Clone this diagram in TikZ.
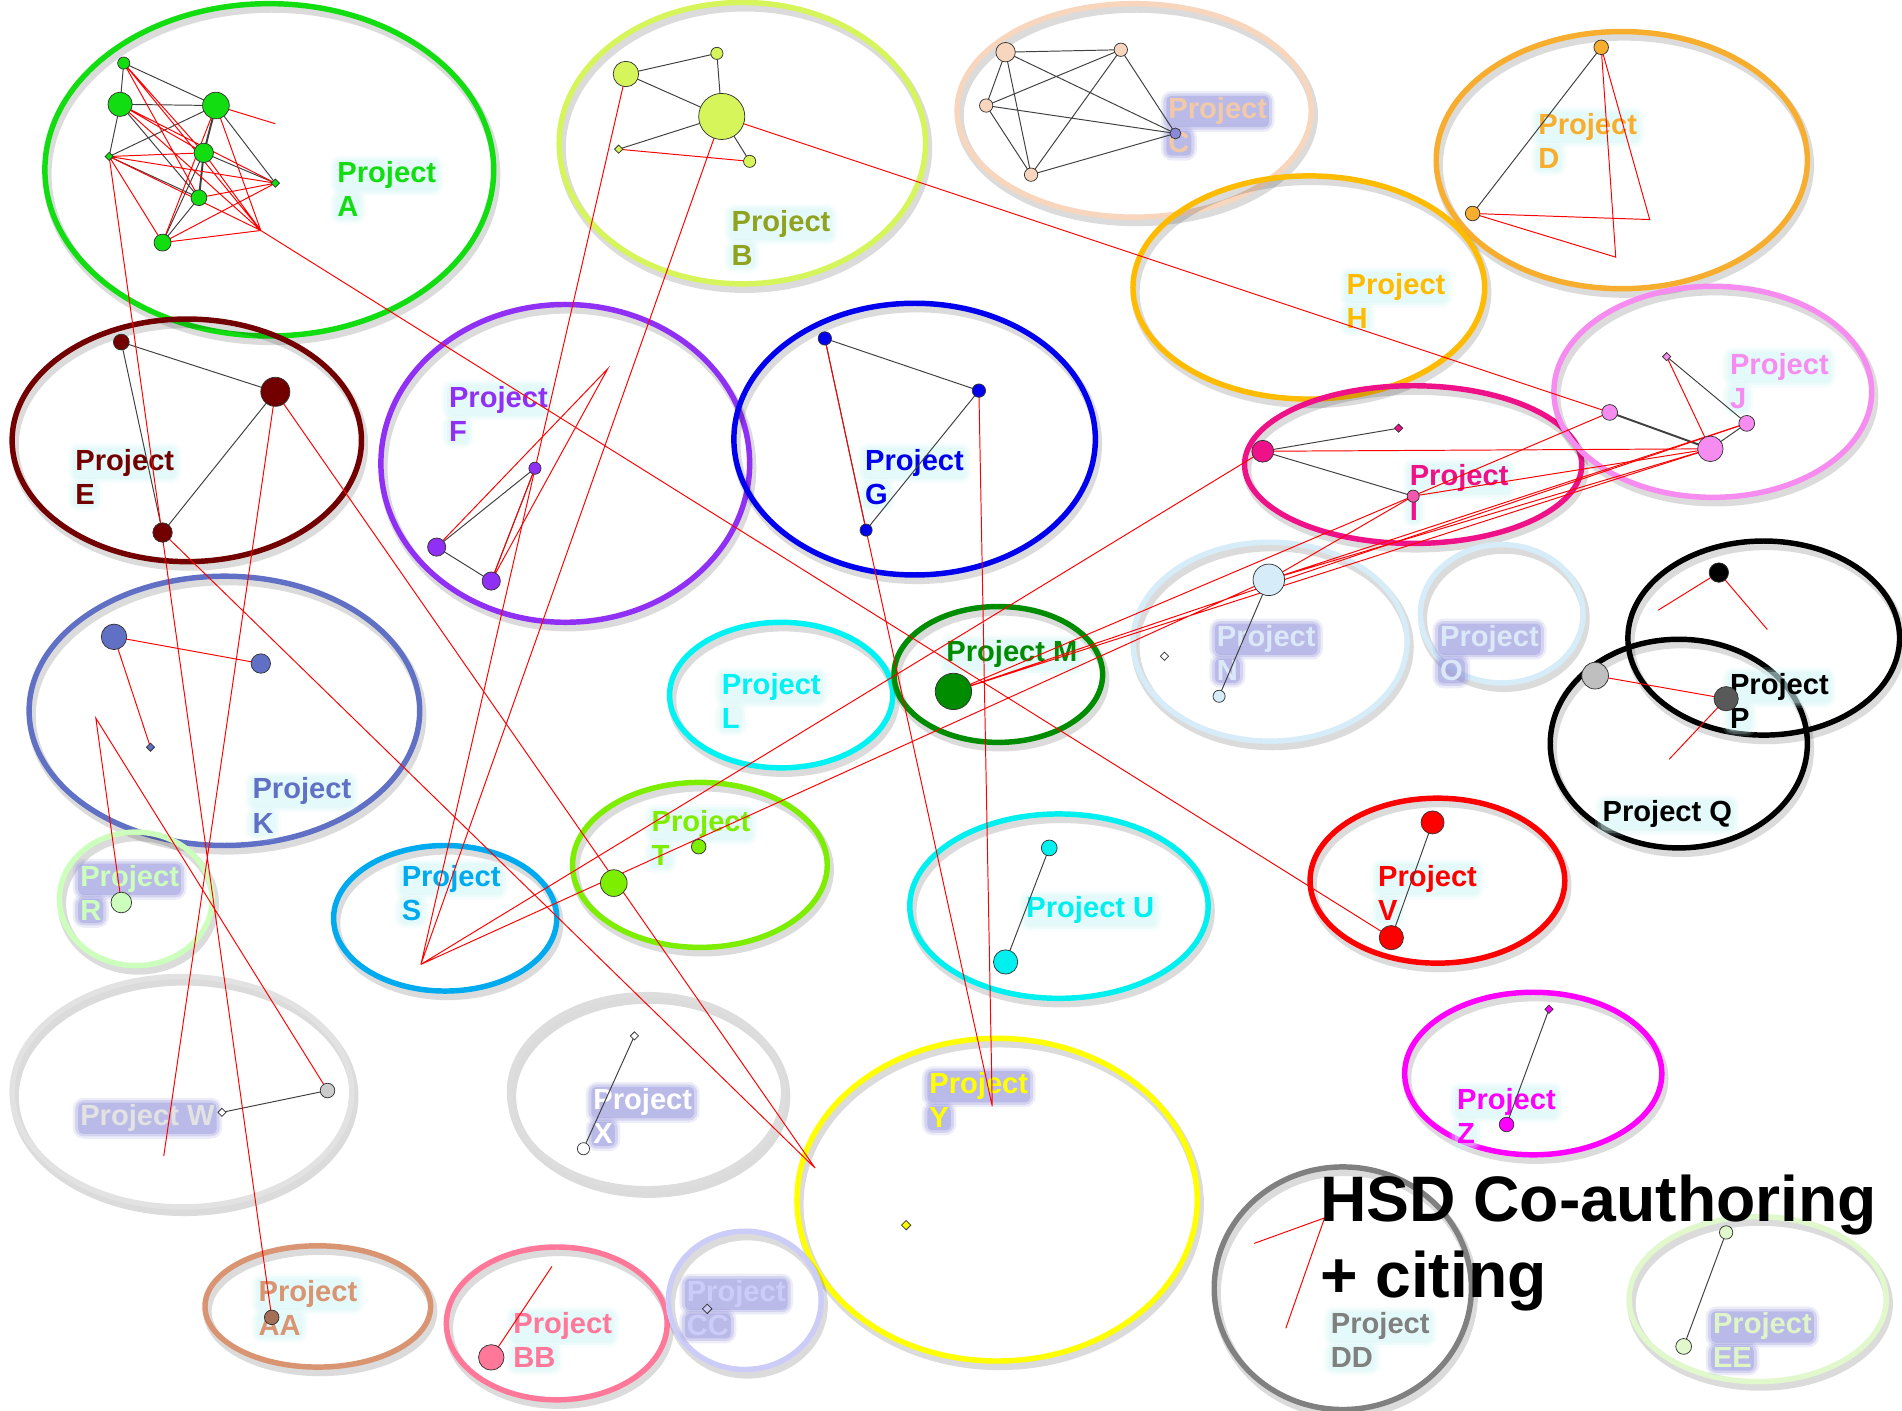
\documentclass[tikz,border=0pt]{standalone}
\usepackage{fontspec}
\setmainfont{Liberation Sans}
\usetikzlibrary{shapes.geometric}
\pgfdeclarelayer{bg}
\pgfdeclarelayer{halo}
\pgfdeclarelayer{lbl}
\pgfdeclarelayer{mid}
\pgfsetlayers{bg,halo,lbl,mid,main}
\newcommand\lblf{\fontsize{24}{29}\selectfont\bfseries}
\newcommand\ttlf{\fontsize{53}{63}\selectfont\bfseries}
\definecolor{cA}{HTML}{11DD11}
\definecolor{cB}{HTML}{D6F55A}
\definecolor{tB}{HTML}{8FA321}
\definecolor{cC}{HTML}{F8D6BD}
\definecolor{tC}{HTML}{F2C9A8}
\definecolor{cD}{HTML}{F7AE2E}
\definecolor{cE}{HTML}{720000}
\definecolor{cF}{HTML}{9130F5}
\definecolor{cG}{HTML}{0000EE}
\definecolor{cH}{HTML}{FFBB00}
\definecolor{cI}{HTML}{EE1188}
\definecolor{cJ}{HTML}{F78CF0}
\definecolor{cK}{HTML}{6070C4}
\definecolor{cL}{HTML}{00F2F2}
\definecolor{cM}{HTML}{008C00}
\definecolor{cN}{HTML}{D6ECF8}
\definecolor{tN}{HTML}{DAE8F8}
\definecolor{cR}{HTML}{CCFFBB}
\definecolor{cS}{HTML}{00AAEE}
\definecolor{cT}{HTML}{7DEE00}
\definecolor{cU}{HTML}{00F0F0}
\definecolor{cV}{HTML}{FF0000}
\definecolor{cW}{HTML}{E2E2E2}
\definecolor{cX}{HTML}{DDDDDD}
\definecolor{cY}{HTML}{FFFF00}
\definecolor{cZ}{HTML}{FF00FF}
\definecolor{cAA}{HTML}{D99472}
\definecolor{cBB}{HTML}{FF7799}
\definecolor{cCC}{HTML}{CCCCF8}
\definecolor{cDD}{HTML}{808080}
\definecolor{cEE}{HTML}{E0F8CC}
\definecolor{tEE}{HTML}{DFF5C8}
\definecolor{hl}{HTML}{8A8ADA}
\definecolor{hc}{HTML}{D2F6F6}
\newcommand\ring[6]{%
  \node[rshadow, minimum width={2*#4}, minimum height={2*#5}] at (#2+2,#3+4) {};
  \node[rline, draw=#6, minimum width={2*#4}, minimum height={2*#5}] (#1) at (#2,#3) {};
}
% soft halo behind one text node
\newcommand\halo[2]{%
  \begin{pgfonlayer}{halo}
  \fill[#2, opacity=0.15, rounded corners=9pt] ([shift={(-6,-5)}]#1.north west) rectangle ([shift={(6,6)}]#1.south east);
  \fill[#2, opacity=0.25, rounded corners=7pt] ([shift={(-4,-3)}]#1.north west) rectangle ([shift={(4,4)}]#1.south east);
  \fill[#2, opacity=0.35, rounded corners=4pt] ([shift={(-1.5,-1)}]#1.north west) rectangle ([shift={(1.5,2)}]#1.south east);
  \end{pgfonlayer}
}
% two-line label: position, text colour, halo colour, line 1, line 2, name
\newcommand\plab[6]{%
  \begin{pgfonlayer}{lbl}
  \node[lbl,text=#2] (#6) at (#1) {#4};
  \node[lbl,text=#2] (#6b) at ([yshift=-29pt]#6.north west) {#5};
  \end{pgfonlayer}
  \halo{#6}{#3}\halo{#6b}{#3}
}
% one-line label: position, text colour, halo colour, text, name
\newcommand\plabo[5]{%
  \begin{pgfonlayer}{lbl}
  \node[lbl,text=#2] (#5) at (#1) {#4};
  \end{pgfonlayer}
  \halo{#5}{#3}
}
\begin{document}
\begin{tikzpicture}[x=1pt,y=-1pt,
  lbl/.style={font=\lblf, anchor=north west, inner sep=0pt},
  ttl/.style={font=\ttlf, align=left, anchor=north west, inner sep=0pt},
  rline/.style={ellipse, line width=4.5pt, inner sep=0pt, outer sep=0pt},
  rshadow/.style={ellipse, draw=black, opacity=0.14, line width=7pt, inner sep=0pt},
  gdot/.style={circle, fill=#1, draw=black!80, line width=0.6pt, inner sep=0pt},
  gdia/.style={diamond, fill=#1, draw=black!80, line width=0.6pt, inner sep=0pt, minimum size=7pt},
  redl/.style={draw=red, line width=0.8pt},
  blkl/.style={draw=black!75, line width=0.8pt},
  thk/.style={line width=1.6pt}]
\begin{pgfonlayer}{bg}
\fill[white] (0,0) rectangle (1568,1163);
\end{pgfonlayer}
\useasboundingbox (0,0) rectangle (1568,1163);

\begin{pgfonlayer}{bg}
\ring{eA}{222}{140}{185}{137}{cA}
\ring{eB}{612}{118}{151}{116}{cB}
\ring{eC}{935}{91}{146}{88}{cC}
\ring{eD}{1337}{132}{153}{106}{cD}
\ring{eE}{154}{363}{144}{100}{cE}
\ring{eF}{466}{382}{152}{131}{cF}
\ring{eG}{754}{362}{149}{112}{cG}
\ring{eH}{1079}{237}{145}{92}{cH}
\ring{eI}{1165}{383}{139}{65}{cI}
\ring{eJ}{1412}{323}{131}{87}{cJ}
\ring{eK}{185}{586}{161}{111}{cK}
\ring{eL}{644}{573}{92}{60}{cL}
\ring{eM}{823}{556}{86}{56}{cM}
\ring{eN}{1047}{529}{113}{82}{cN}
\ring{eO}{1238}{506}{67}{57}{cN}
\ring{eP}{1454}{526}{112}{80}{black}
\ring{eQ}{1384}{613}{106}{86}{black}
\ring{eR}{112}{741}{63}{55}{cR}
\ring{eS}{367}{757}{92}{60}{cS}
\ring{eT}{577}{713}{105}{68}{cT}
\ring{eU}{873}{747}{123}{76}{cU}
\ring{eV}{1185}{726}{105}{68}{cV}
\ring{eW}{150}{900}{140}{95}{cW}
\ring{eX}{533}{900}{113}{80}{cX}
\ring{eY}{822}{989}{165}{133}{cY}
\ring{eZ}{1264}{885}{106}{67}{cZ}
\ring{eAA}{262}{1077}{93}{50}{cAA}
\ring{eBB}{459}{1091}{91}{63}{cBB}
\ring{eCC}{614}{1072}{63}{57}{cCC}
\ring{eDD}{1107}{1062}{106}{100}{cDD}
\ring{eEE}{1449}{1071}{106}{68}{cEE}
\end{pgfonlayer}

\plab{278,133}{cA}{hc}{Project}{A}{lA}
\plab{603,173}{tB}{hc}{Project}{B}{lB}
\plab{963,80}{tC}{hl}{Project}{C}{lC}
\plab{1268,93}{cD}{hc}{Project}{D}{lD}
\plab{62,370}{cE}{hc}{Project}{E}{lE}
\plab{370,318}{cF}{hc}{Project}{F}{lF}
\plab{713,370}{cG}{hc}{Project}{G}{lG}
\plab{1110,225}{cH}{hc}{Project}{H}{lH}
\plab{1162,383}{cI}{hc}{Project}{I}{lI}
\plab{1426,291}{cJ}{hc}{Project}{J}{lJ}
\plab{208,641}{cK}{hc}{Project}{K}{lK}
\plab{595,555}{cL}{hc}{Project}{L}{lL}
\plabo{780,528}{cM}{hc}{Project M}{lM}
\plab{1003,515}{tN}{hl}{Project}{N}{lN}
\plab{1187,515}{tN}{hl}{Project}{O}{lO}
\plab{1426,555}{black}{hc}{Project}{P}{lP}
\plabo{1321,660}{black}{hc}{Project Q}{lQ}
\plab{66,713}{cR}{hl}{Project}{R}{lR}
\plab{331,713}{cS}{hc}{Project}{S}{lS}
\plab{537,668}{cT}{hc}{Project}{T}{lT}
\plabo{846,739}{cU}{hc}{Project U}{lU}
\plab{1136,713}{cV}{hc}{Project}{V}{lV}
\plabo{66,910}{cW}{hl}{Project W}{lW}
\plab{489,897}{white}{hl}{Project}{X}{lX}
\plab{766,884}{cY}{hl}{Project}{Y}{lY}
\plab{1201,897}{cZ}{hc}{Project}{Z}{lZ}
\plab{213,1055}{cAA}{hc}{Project}{AA}{lAA}
\plab{423,1082}{cBB}{hc}{Project}{BB}{lBB}
\plab{566,1055}{cCC}{hl}{Project}{CC}{lCC}
\plab{1097,1082}{cDD}{hc}{Project}{DD}{lDD}
\plab{1412,1082}{tEE}{hl}{Project}{EE}{lEE}

% graph dots
\node[gdot=cA, minimum size=10pt] (a1) at (102,52) {};
\node[gdot=cA, minimum size=20pt] (a2) at (99,86) {};
\node[gdot=cA, minimum size=22pt] (a3) at (178,87) {};
\node[gdot=cA, minimum size=16pt] (a4) at (168,126) {};
\node[gdia=cA] (a5) at (90,129) {};
\node[gdia=cA] (a6) at (227,151) {};
\node[gdot=cA, minimum size=13pt] (a7) at (164,163) {};
\node[gdot=cA, minimum size=14pt] (a8) at (134,200) {};
\node[gdot=cB, minimum size=21pt] (b1) at (516,61) {};
\node[gdot=cB, minimum size=38pt] (b2) at (595,96) {};
\node[gdot=cB, minimum size=10pt] (b3) at (591,44) {};
\node[gdot=cB, minimum size=10pt] (b4) at (618,133) {};
\node[gdia=cB] (b5) at (510,123) {};
\node[gdot=cC, minimum size=16pt] (c1) at (829,43) {};
\node[gdot=cC, minimum size=11pt] (c2) at (924,41) {};
\node[gdot=cC, minimum size=11pt] (c3) at (813,87) {};
\node[gdot=cC, minimum size=11pt] (c4) at (850,144) {};
\node[gdot=hl, minimum size=9pt] (c5) at (969,110) {};
\node[gdot=cD, minimum size=12pt] (d1) at (1320,39) {};
\node[gdot=cD, minimum size=12pt] (d2) at (1214,176) {};
\node[gdot=cE, minimum size=13pt] (e1) at (100,282) {};
\node[gdot=cE, minimum size=24pt] (e2) at (227,323) {};
\node[gdot=cE, minimum size=16pt] (e3) at (134,439) {};
\node[gdot=cF, minimum size=10pt] (f1) at (441,386) {};
\node[gdot=cF, minimum size=15pt] (f2) at (360,451) {};
\node[gdot=cF, minimum size=15pt] (f3) at (405,479) {};
\node[gdot=cG, minimum size=11pt] (g1) at (680,279) {};
\node[gdot=cG, minimum size=11pt] (g2) at (807,322) {};
\node[gdot=cG, minimum size=10pt] (g3) at (714,437) {};
\node[gdot=cI, minimum size=18pt] (i1) at (1041,372) {};
\node[gdot=cI!70, minimum size=10pt] (i2) at (1165,409) {};
\node[gdia=cI] (i3) at (1153,353) {};
\node[gdot=cJ, minimum size=13pt] (j1) at (1327,340) {};
\node[gdot=cJ, minimum size=21pt] (j2) at (1410,370) {};
\node[gdia=cJ] (j3) at (1374,294) {};
\node[gdot=cJ, minimum size=13pt] (j4) at (1440,349) {};
\node[gdot=cK, minimum size=21pt] (k1) at (94,525) {};
\node[gdot=cK, minimum size=16pt] (k2) at (215,547) {};
\node[gdia=cK] (k3) at (124,616) {};
\node[gdot=cM, minimum size=30pt] (m1) at (786,570) {};
\node[gdot=cN, minimum size=26pt] (n1) at (1046,478) {};
\node[gdia=white] (n2) at (960,541) {};
\node[gdot=cN, minimum size=10pt] (n3) at (1005,574) {};
\node[gdot=black, minimum size=16pt] (p1) at (1417,472) {};
\node[gdot=black!25, minimum size=22pt] (q1) at (1315,557) {};
\node[gdot=black!65, minimum size=20pt] (q2) at (1423,576) {};
\node[gdot=cR, minimum size=17pt] (r1) at (100,744) {};
\node[gdot=cT, minimum size=22pt] (t1) at (506,728) {};
\node[gdot=cT, minimum size=12pt] (t2) at (576,698) {};
\node[gdot=cU, minimum size=13pt] (u1) at (865,699) {};
\node[gdot=cU, minimum size=20pt] (u2) at (829,793) {};
\node[gdot=cV, minimum size=19pt] (v1) at (1181,678) {};
\node[gdot=cV, minimum size=20pt] (v2) at (1147,773) {};
\node[gdia=white] (w1) at (183,917) {};
\node[gdot=black!20, minimum size=12pt] (w2) at (270,899) {};
\node[gdia=white] (x1) at (523,854) {};
\node[gdot=white, minimum size=10pt] (x2) at (481,947) {};
\node[gdia=cY, minimum size=8pt] (y1) at (747,1010) {};
\node[gdia=cZ] (z1) at (1277,832) {};
\node[gdot=cZ, minimum size=12pt] (z2) at (1242,927) {};
\node[gdot=black!25!cAA, minimum size=12pt] (aa1) at (224,1086) {};
\node[gdot=cBB, minimum size=21pt] (bb1) at (405,1119) {};
\node[gdia=cCC, minimum size=8pt] (cc1) at (583,1079) {};
\node[gdot=cEE, minimum size=11pt] (ee1) at (1423,1016) {};
\node[gdot=cEE, minimum size=13pt] (ee2) at (1388,1110) {};

% free end points of citation lines
\coordinate (pA) at (215,190);
\coordinate (a3x) at (227,102);
\coordinate (fP) at (501,304);
\coordinate (sP) at (347,795);
\coordinate (yEnd) at (818,912);
\coordinate (yL) at (672,963);
\coordinate (kV) at (79,592);
\coordinate (wEnd) at (135,953);
\coordinate (dA) at (1360,181);
\coordinate (dB) at (1332,212);
\coordinate (pE1) at (1367,503);
\coordinate (pE2) at (1457,519);
\coordinate (qE) at (1376,626);
\coordinate (bbE) at (455,1044);
\coordinate (ddA) at (1034,1025);
\coordinate (ddB) at (1092,1004);
\coordinate (ddC) at (1060,1095);

\begin{pgfonlayer}{mid}
% co-authoring (black)
\path[blkl] (a1.center) -- (a2.center) (a1.center) -- (a3.center) (a2.center) -- (a3.center)
  (a2.center) -- (a5.center) (a3.center) -- (a5.center) (a2.center) -- (a7.center)
  (a3.center) -- (a6.center) (a4.center) -- (a6.center) (a5.center) -- (a7.center)
  (a4.center) -- (a8.center) (a7.center) -- (a8.center);
\path[blkl,thk] (a3.center) -- (a4.center) -- (a7.center);
\path[blkl] (b1.center) -- (b3.center) -- (b2.center) -- (b1.center)
  (b2.center) -- (b4.center) (b2.center) -- (b5.center);
\path[blkl] (c1.center) -- (c2.center) (c1.center) -- (c3.center) (c1.center) -- (c4.center)
  (c1.center) -- (c5.center) (c2.center) -- (c3.center) (c2.center) -- (c4.center)
  (c2.center) -- (c5.center) (c3.center) -- (c4.center) (c3.center) -- (c5.center)
  (c4.center) -- (c5.center);
\path[blkl] (d1.center) -- (d2.center);
\path[blkl] (e1.center) -- (e2.center) -- (e3.center) -- (e1.center);
\path[blkl] (f1.center) -- (f2.center) -- (f3.center) -- (f1.center);
\path[blkl] (g1.center) -- (g2.center) -- (g3.center) -- (g1.center);
\path[blkl] (i3.center) -- (i1.center) -- (i2.center);
\path[blkl,thk] (j1.center) -- (j2.center);
\path[blkl] (j3.center) -- (j4.center) -- (j2.center);
\path[blkl] (n1.center) -- (n3.center);
\path[blkl] (u1.center) -- (u2.center) (v1.center) -- (v2.center) (w1.center) -- (w2.center)
  (x1.center) -- (x2.center) (z1.center) -- (z2.center) (ee1.center) -- (ee2.center);
% citing (red)
\path[redl] (a1.center) -- (a4.center) (a1.center) -- (a7.center) (a1.center) -- (pA)
  (a2.center) -- (a4.center) (a2.center) -- (pA) (a2.center) -- (a6.center)
  (a3.center) -- (a8.center) (a3.center) -- (pA) (a3.center) -- (a3x)
  (a5.center) -- (a4.center) (a5.center) -- (pA) (a5.center) -- (a8.center) (a5.center) -- (a6.center)
  (a4.center) -- (pA) (a7.center) -- (a6.center) (a8.center) -- (a6.center) (a8.center) -- (pA);
\path[redl] (pA) -- (v2.center) (a5.center) -- (aa1.center) (e2.center) -- (wEnd)
  (e2.center) -- (yL) (e3.center) -- (yL) (r1.center) -- (kV) -- (w2.center);
\path[redl] (b5.center) -- (b4.center) (b1.center) -- (sP) (b2.center) -- (sP) (b2.center) -- (j1.center);
\path[redl] (d2.center) -- (dA) -- (d1.center) -- (dB) -- (d2.center);
\path[redl] (f2.center) -- (fP) -- (f3.center) (f1.center) -- (f3.center);
\path[redl] (g1.center) -- (g3.center) -- (yEnd) (g2.center) -- (yEnd);
\path[redl] (k3.center) -- (k1.center) -- (k2.center);
\path[redl] (sP) -- (i1.center) (sP) -- (n1.center) (m1.center) -- (j1.center)
  (m1.center) -- (j2.center) (m1.center) -- (j4.center);
\path[redl] (n1.center) -- (j2.center) (n1.center) -- (i2.center) (j4.center) -- (n1.center);
\path[redl] (i1.center) -- (j2.center) (i2.center) -- (j2.center) (j3.center) -- (j2.center);
\path[redl] (pE1) -- (p1.center) -- (pE2);
\path[redl] (q1.center) -- (q2.center) -- (qE);
\path[redl] (bb1.center) -- (bbE);
\path[redl] (ddA) -- (ddB) -- (ddC);
\end{pgfonlayer}

\node[ttl] (title) at (1088,968) {HSD Co-authoring\\+ citing};
\end{tikzpicture}
\end{document}
